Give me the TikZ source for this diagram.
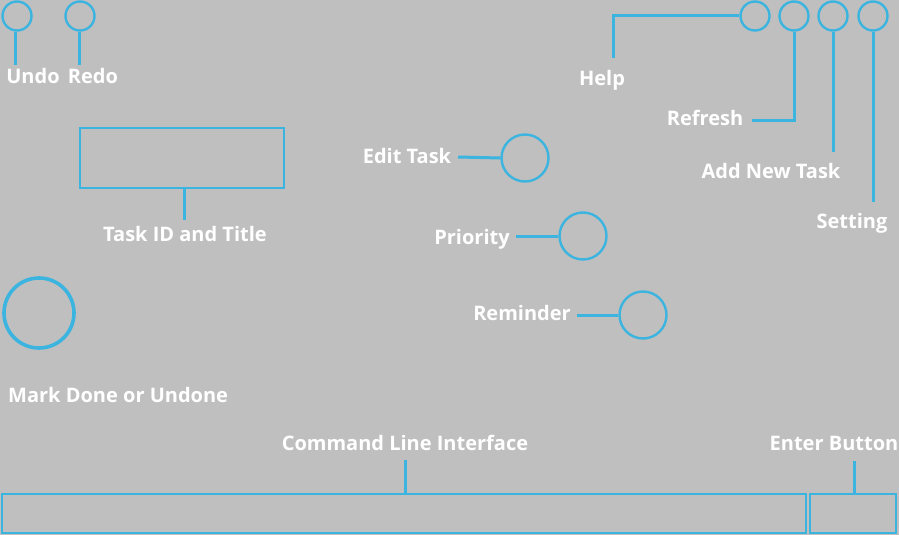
\documentclass[tikz,border=0pt]{standalone}
\usepackage{fontspec}
\setmainfont{Open Sans}
\usetikzlibrary{positioning,calc}
\definecolor{uiBg}{HTML}{BFBFBF}
\definecolor{uiLine}{HTML}{3CB4E0}

\begin{document}
\begin{tikzpicture}[x=1pt,y=-1pt, font=\bfseries\fontsize{20}{22}\selectfont,
  btn/.style={circle, draw=uiLine, line width=2.4pt, inner sep=0pt, minimum size=29pt},
  bigbtn/.style={btn, minimum size=47pt},
  donebtn/.style={btn, line width=3.6pt, minimum size=70pt},
  field/.style={draw=uiLine, line width=2.6pt, inner sep=0pt},
  link/.style={draw=uiLine, line width=3pt},
  lab/.style={text=white, inner sep=0pt, text height=1.45ex, text depth=0pt, yshift=-4pt},
  ]
\fill[uiBg] (0,0) rectangle (899,535);
\useasboundingbox (0,0) rectangle (899,535);
% ---- top left
\node[btn] (undo) at (17,16) {};
\node[btn] (redo) at (80,16) {};
\node[lab] (undoL) at (33,76) {Undo};
\node[lab] (redoL) at (93,76) {Redo};
\coordinate (undoE) at (15,65);
\coordinate (redoE) at (79,65);
\draw[link] (undo.south -| undoE) -- (undoE);
\draw[link] (redo.south -| redoE) -- (redoE);
% ---- top right
\node[btn] (help) at (755,16) {};
\node[btn] (refresh) at (794,16) {};
\node[btn] (addtask) at (833,16) {};
\node[btn] (setting) at (873,16) {};
\node[lab] (helpL) at (602,78) {Help};
\node[lab] (refreshL) at (705,118) {Refresh};
\node[lab] (addtaskL) at (771,171) {Add New Task};
\node[lab] (settingL) at (852,221) {Setting};
\coordinate (helpE) at (613,58);
\coordinate (refreshE) at (752,120);
\coordinate (addtaskE) at (833,152);
\coordinate (settingE) at (873,202);
\draw[link] (help.west) -| (helpE);
\draw[link] (refresh.south) |- (refreshE);
\draw[link] (addtask.south) -- (addtaskE);
\draw[link] (setting.south) -- (settingE);
% ---- task title
\node[field, minimum width=204pt, minimum height=60pt] (title) at (182,158) {};
\node[lab] (titleL) at (185,234) {Task ID and Title};
\coordinate (titleE) at (184,220);
\draw[link] (title.south -| titleE) -- (titleE);
% ---- task actions
\node[bigbtn] (edit) at (525,158) {};
\node[bigbtn] (priority) at (583,236) {};
\node[bigbtn] (reminder) at (643,315) {};
\node[lab] (editL) at (407,156) {Edit Task};
\node[lab] (priorityL) at (472,237) {Priority};
\node[lab] (reminderL) at (522,313) {Reminder};
\coordinate (editE) at (458,157);
\coordinate (priorityE) at (516,236);
\coordinate (reminderE) at (577,315);
\draw[link] (editE) -- (edit.west);
\draw[link] (priorityE) -- (priority.west);
\draw[link] (reminderE) -- (reminder.west);
% ---- done toggle
\node[donebtn] (done) at (39,313) {};
\node[lab, anchor=west] (doneL) at (8,395) {Mark Done or Undone};
% ---- command line
\node[field, minimum width=804pt, minimum height=39pt] (cli) at (404,513.5) {};
\node[field, minimum width=86pt, minimum height=39pt] (enter) at (853,513.5) {};
\node[lab] (cliL) at (405,443) {Command Line Interface};
\node[lab] (enterL) at (834,443) {Enter Button};
\coordinate (cliE) at (405,460);
\coordinate (enterE) at (854,461);
\draw[link] (cliE) -- (cli.north -| cliE);
\draw[link] (enterE) -- (enter.north -| enterE);
\end{tikzpicture}
\end{document}
